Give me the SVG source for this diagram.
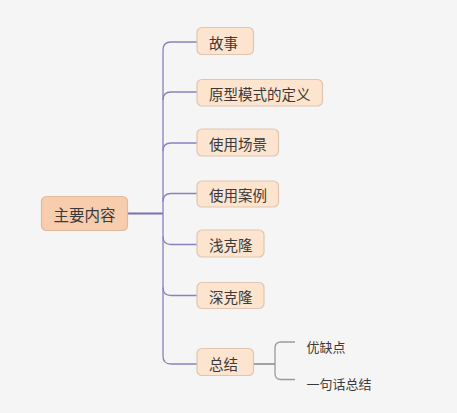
<svg xmlns="http://www.w3.org/2000/svg" width="457" height="413" viewBox="0 0 457 413">
<style>
text{font-family:"Noto Sans CJK SC","Liberation Sans",sans-serif;fill:#3a3a3a;dominant-baseline:central}
.root rect{fill:#f8cdad;stroke:#e2bb9d;stroke-width:1.2}
.child rect{fill:#fde4cf;stroke:#e0c6b2;stroke-width:1.2}
.lk{fill:none;stroke:#8a80bd;stroke-width:1.3}
.sk{fill:none;stroke:#9a9a9a;stroke-width:1.3}
.root text{font-size:15.5px}
.child text{font-size:14.5px}
.leaf text{font-size:13px}
</style>
<rect width="457" height="413" fill="#f5f5f5"/>
<g id="connectors">
<path class="lk" d="M128,213.5 H163" style="stroke-width:1.8;stroke:#7a70b2"/>
<path class="lk" d="M163,213.5 V50 Q163,42 171,42 H197"/>
<path class="lk" d="M163,100 Q163,92 171,92 H197"/>
<path class="lk" d="M163,151 Q163,143 171,143 H197"/>
<path class="lk" d="M163,201.5 Q163,193.5 171,193.5 H197"/>
<path class="lk" d="M163,213.5 V356 Q163,364 171,364 H197"/>
<path class="lk" d="M163,236.5 Q163,244.5 171,244.5 H197"/>
<path class="lk" d="M163,287.5 Q163,295.5 171,295.5 H197"/>
<path class="sk" d="M254,364 H275" style="stroke-width:1.8"/>
<path class="sk" d="M295,342 H281 Q275,342 275,348 V373.5 Q275,379.5 281,379.5 H295"/>
</g>
<g id="root" class="root"><rect x="41.5" y="196.5" width="86" height="34" rx="5"/><text x="84.5" y="214" text-anchor="middle">主要内容</text></g>
<g id="n1" class="child"><rect x="197" y="27.5" width="56.5" height="27" rx="5"/><text x="209" y="42">故事</text></g>
<g id="n2" class="child"><rect x="197" y="79.5" width="125.5" height="26.5" rx="5"/><text x="209" y="93">原型模式的定义</text></g>
<g id="n3" class="child"><rect x="197" y="129" width="81.5" height="27" rx="5"/><text x="209" y="143.5">使用场景</text></g>
<g id="n4" class="child"><rect x="197" y="181" width="81.5" height="26" rx="5"/><text x="209" y="194.5">使用案例</text></g>
<g id="n5" class="child"><rect x="197" y="230" width="67" height="27" rx="5"/><text x="209" y="244.5">浅克隆</text></g>
<g id="n6" class="child"><rect x="197" y="282.5" width="67" height="26" rx="5"/><text x="209" y="296">深克隆</text></g>
<g id="n7" class="child"><rect x="197" y="348.5" width="56.5" height="27" rx="5"/><text x="209" y="363">总结</text></g>
<g id="n8" class="leaf"><text x="306.5" y="346.5">优缺点</text></g>
<g id="n9" class="leaf"><text x="306.5" y="383">一句话总结</text></g>
</svg>
